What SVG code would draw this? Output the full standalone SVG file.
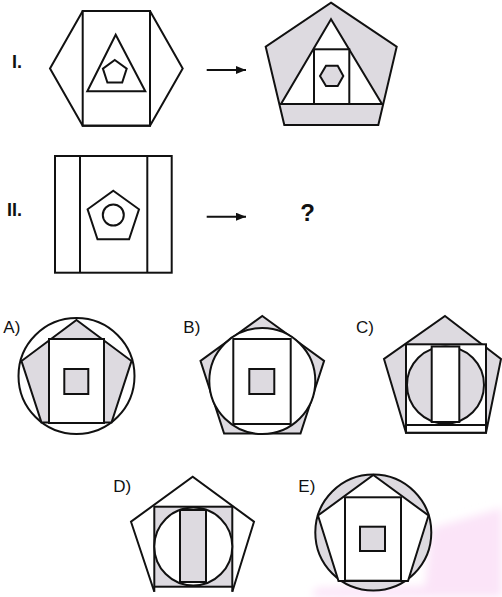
<svg xmlns="http://www.w3.org/2000/svg" width="502" height="597" viewBox="0 0 502 597">
<style>
.s{stroke:#111;stroke-width:2;stroke-linejoin:miter;fill:none}
.w{fill:#fff}
.g{fill:#dddae0}
.lbl{font-family:"Liberation Sans",Arial,sans-serif;font-size:17px;fill:#111}
.rom{font-family:"Liberation Sans",Arial,sans-serif;font-size:18px;font-weight:bold;fill:#111}
</style>
<defs>
<marker id="ah" viewBox="0 0 10 8" refX="10" refY="4" markerWidth="10" markerHeight="8" markerUnits="userSpaceOnUse" orient="auto">
<path d="M0,0 L10,4 L0,8 Z" fill="#111"/>
</marker>
<filter id="blur" x="-20%" y="-20%" width="140%" height="140%"><feGaussianBlur stdDeviation="4"/></filter>
</defs>
<rect width="502" height="597" fill="#fff"/>
<polygon points="432,528 502,508 502,597 312,597 316,588 425,586" fill="#fbe4f8" filter="url(#blur)"/>

<g id="label-I"><text class="rom" x="22" y="68" text-anchor="end">I.</text></g>
<g id="label-II"><text class="rom" x="22" y="216" text-anchor="end">II.</text></g>

<g id="fig-I-left">
<polygon class="s w" points="50,68.5 82.7,11 150,11 182.7,68.5 150,125.7 82.7,125.7"/>
<rect class="s" x="82.7" y="11" width="67.3" height="114.7"/>
<polygon class="s" points="115.7,34.7 87.3,91.3 145.3,91.3"/>
<polygon class="s" points="114.8,60 126.7,68.6 122.2,82.6 107.4,82.6 102.9,68.6"/>
</g>

<g id="fig-I-right">
<polygon class="s g" points="331,2.7 396.7,46.7 378.3,125 284.3,125 265.7,46.7"/>
<polygon class="s w" points="331,19.3 281,104 382,104"/>
<line class="s" x1="279.3" y1="104" x2="383.2" y2="104"/>
<rect class="s w" x="314" y="49.3" width="35.3" height="54.7"/>
<polygon class="s g" points="320,76 326,65.7 337.7,65.7 343.3,76 337.7,86 326,86"/>
</g>

<g id="fig-II">
<rect class="s" x="55" y="156" width="116.7" height="116.7"/>
<line class="s" x1="80" y1="156" x2="80" y2="272.7"/>
<line class="s" x1="147.3" y1="156" x2="147.3" y2="272.7"/>
<polygon class="s" points="113.3,190.7 139,209.3 129.1,239.3 97.5,239.3 87.6,209.3"/>
<circle class="s" cx="113.3" cy="215" r="10.5"/>
</g>

<g id="question"><text x="307.5" y="221" text-anchor="middle" font-family="Liberation Sans, Arial, sans-serif" font-size="24" font-weight="bold" fill="#111">?</text></g>

<g id="connectors">
<line class="s" x1="206.7" y1="70" x2="246" y2="70" marker-end="url(#ah)"/>
<line class="s" x1="206.7" y1="216.7" x2="246" y2="216.7" marker-end="url(#ah)"/>
</g>

<g id="opt-A">
<text class="lbl" x="3.3" y="333.3">A)</text>
<circle class="s w" cx="76.5" cy="376" r="58"/>
<polygon class="s g" points="76.5,320 131.5,361 111.5,422.5 41.5,422.5 21.5,361"/>
<rect class="s w" x="49" y="339" width="55" height="84"/>
<rect class="s g" x="64.3" y="369" width="24" height="25"/>
</g>

<g id="opt-B">
<text class="lbl" x="183.3" y="333">B)</text>
<polygon class="s g" points="262.3,316 324.1,360.9 300.5,433.6 224.1,433.6 200.5,360.9"/>
<circle class="s w" cx="262.3" cy="381" r="53"/>
<rect class="s w" x="233.3" y="339" width="57.4" height="85"/>
<rect class="s g" x="249.3" y="369" width="25" height="25"/>
</g>

<g id="opt-C">
<text class="lbl" x="356" y="333">C)</text>
<polygon class="s g" points="445,316 501,359 486,432.7 406,432.7 384,359"/>
<rect class="s w" x="406" y="344.3" width="80" height="88.4"/>
<line class="s" x1="406" y1="425" x2="486" y2="425"/>
<circle class="s g" cx="445.5" cy="385" r="38.5"/>
<rect class="s w" x="431.7" y="346.5" width="27.6" height="75.5"/>
</g>

<g id="opt-D">
<text class="lbl" x="113.3" y="492">D)</text>
<polygon class="w" points="192.7,476.7 254,521.7 232.3,591.7 154.3,591.7 131,521.7"/>
<polyline class="s" points="154.3,591.7 131,521.7 192.7,476.7 254,521.7 232.3,591.7"/>
<rect class="s g" x="154.3" y="506.7" width="78" height="80"/>
<line class="s" x1="154.3" y1="586" x2="154.3" y2="591.7"/>
<line class="s" x1="232.3" y1="586" x2="232.3" y2="591.7"/>
<circle class="s w" cx="193.3" cy="546.5" r="39"/>
<rect class="s g" x="180" y="510" width="26" height="72"/>
</g>

<g id="opt-E">
<text class="lbl" x="298.3" y="491.7">E)</text>
<circle class="s g" cx="373.3" cy="532.5" r="58"/>
<polygon class="s w" points="373.3,475 428.5,515.5 408,581 338.5,581 318,515.5"/>
<rect class="s w" x="345" y="497.3" width="56" height="83.4"/>
<rect class="s g" x="360" y="526.7" width="25" height="24.3"/>
</g>
</svg>
